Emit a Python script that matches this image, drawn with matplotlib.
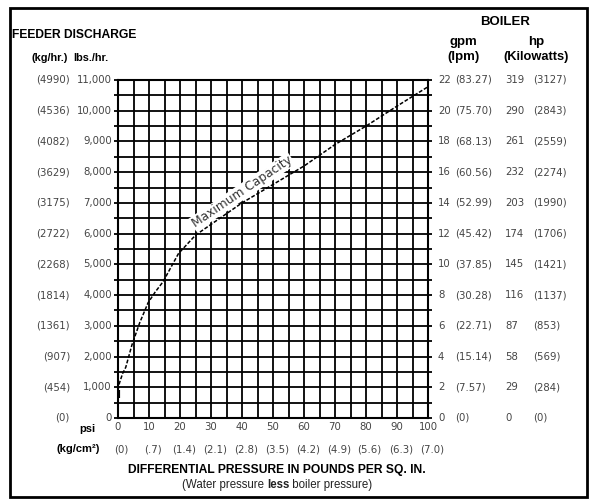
import numpy as np
import matplotlib
matplotlib.use("Agg")
import matplotlib.pyplot as plt
from matplotlib.transforms import blended_transform_factory
from matplotlib.patches import Rectangle

plt.rcParams['font.family'] = ['Liberation Sans', 'DejaVu Sans']

# curve: differential psi vs feeder discharge lbs/hr
psi = [0, 0.5, 1.5, 2.5, 4.5, 7, 9.7, 12, 14.5, 19.5, 25, 30, 40, 50, 60, 70, 80, 90, 100]
lbs = [910, 1150, 1450, 1650, 2380, 3100, 3750, 4100, 4430, 5350, 5950, 6300, 7000, 7600, 8200, 8900, 9500, 10150, 10780]
start_psi = [0, 0]
start_lbs = [650, 910]

# axis labels
lbs_ticks = [0, 1000, 2000, 3000, 4000, 5000, 6000, 7000, 8000, 9000, 10000, 11000]
kg_hr = ['(0)', '(454)', '(907)', '(1361)', '(1814)', '(2268)', '(2722)', '(3175)',
         '(3629)', '(4082)', '(4536)', '(4990)']
gpm = ['0', '2', '4', '6', '8', '10', '12', '14', '16', '18', '20', '22']
lpm = ['(0)', '(7.57)', '(15.14)', '(22.71)', '(30.28)', '(37.85)', '(45.42)', '(52.99)',
       '(60.56)', '(68.13)', '(75.70)', '(83.27)']
hp = ['0', '29', '58', '87', '116', '145', '174', '203', '232', '261', '290', '319']
kw = ['(0)', '(284)', '(569)', '(853)', '(1137)', '(1421)', '(1706)', '(1990)',
      '(2274)', '(2559)', '(2843)', '(3127)']
psi_ticks = [0, 10, 20, 30, 40, 50, 60, 70, 80, 90, 100]
kg_cm2 = ['(0)', '(.7)', '(1.4)', '(2.1)', '(2.8)', '(3.5)', '(4.2)', '(4.9)', '(5.6)', '(6.3)', '(7.0)']

W, H = 592, 500
fig = plt.figure(figsize=(W / 100, H / 100), dpi=100)
ax = fig.add_axes([118 / W, 1 - 418 / H, 310 / W, 338 / H])

ax.plot(psi, lbs, color='black', lw=1.1, linestyle=(0, (2.5, 1.2)), zorder=4)
ax.plot(start_psi, start_lbs, color='black', lw=3, solid_capstyle='butt', zorder=4)

ax.set_xlim(0, 100)
ax.set_ylim(0, 11000)
ax.set_xticks(np.arange(0, 101, 5))
ax.set_yticks(np.arange(0, 11001, 500))
ax.grid(True, color='black', lw=1.3)
ax.tick_params(axis='y', which='both', left=True, right=True, length=3, width=1.3,
               direction='out', labelleft=False)
ax.tick_params(axis='x', length=0, labelbottom=False)
for s in ax.spines.values():
    s.set_linewidth(1.5)

num_kw = dict(fontsize=7.3, color='#444444', va='center', family='DejaVu Sans')
ty = blended_transform_factory(fig.transFigure, ax.transData)
for v, k, g, lp, h, kwt in zip(lbs_ticks, kg_hr, gpm, lpm, hp, kw):
    ax.text(70 / W, v, k, transform=ty, ha='right', **num_kw)
    ax.text(112 / W, v, f'{v:,}', transform=ty, ha='right', **num_kw)
    ax.text(438 / W, v, g, transform=ty, ha='left', **num_kw)
    ax.text(455 / W, v, lp, transform=ty, ha='left', **num_kw)
    ax.text(505 / W, v, h, transform=ty, ha='left', **num_kw)
    ax.text(533 / W, v, kwt, transform=ty, ha='left', **num_kw)

tx = blended_transform_factory(ax.transData, fig.transFigure)
for p, kg in zip(psi_ticks, kg_cm2):
    ax.text(p, 1 - 427 / H, str(p), transform=tx, ha='center', **num_kw)
    ax.text(p + 1.2, 1 - 449 / H, kg, transform=tx, ha='center', **num_kw)

bold = dict(fontweight='bold', color='black', va='center')
fig.text(95 / W, 1 - 429 / H, 'psi', ha='right', fontsize=8, **bold)
fig.text(100 / W, 1 - 449 / H, '(kg/cm²)', ha='right', fontsize=8, **bold)
fig.text(12 / W, 1 - 35 / H, 'FEEDER DISCHARGE', ha='left', fontsize=8.7, **bold)
fig.text(32 / W, 1 - 58 / H, '(kg/hr.)', ha='left', fontsize=7.8, **bold)
fig.text(73 / W, 1 - 58 / H, 'lbs./hr.', ha='left', fontsize=7.8, **bold)
fig.text(505 / W, 1 - 22 / H, 'BOILER', ha='center', fontsize=9.5, **bold)
fig.text(463 / W, 1 - 42 / H, 'gpm', ha='center', fontsize=9.5, **bold)
fig.text(463 / W, 1 - 57 / H, '(lpm)', ha='center', fontsize=9.5, **bold)
fig.text(536 / W, 1 - 42 / H, 'hp', ha='center', fontsize=9.5, **bold)
fig.text(536 / W, 1 - 57 / H, '(Kilowatts)', ha='center', fontsize=9.3, **bold)
fig.text(277 / W, 1 - 470 / H, 'DIFFERENTIAL PRESSURE IN POUNDS PER SQ. IN.', ha='center',
         fontsize=8.7, **bold)

# sub caption with a bold word in the middle
parts = [('(Water pressure ', 'normal'), ('less', 'bold'), (' boiler pressure)', 'normal')]
fig.canvas.draw()
r = fig.canvas.get_renderer()
widths = []
for t, w in parts:
    tmp = fig.text(0, 0, t, fontsize=8.3, fontweight=w)
    widths.append(tmp.get_window_extent(r).width)
    tmp.remove()
x0 = 277 - sum(widths) / 2
for (t, w), wd in zip(parts, widths):
    fig.text(x0 / W, 1 - 485 / H, t, fontsize=8.3, fontweight=w, color='#222222', va='center')
    x0 += wd

ax.text(40, 7360, 'Maximum Capacity', rotation=34, rotation_mode='anchor',
        ha='center', va='center', fontsize=8.8, color='#333333', zorder=5,
        family='DejaVu Sans', bbox=dict(facecolor='white', edgecolor='none', pad=0.8))

fig.patches.append(Rectangle((10 / W, 3 / H), 577 / W, 489 / H, transform=fig.transFigure,
                             fill=False, edgecolor='black', lw=2))

fig.savefig('out.png', dpi=100)
